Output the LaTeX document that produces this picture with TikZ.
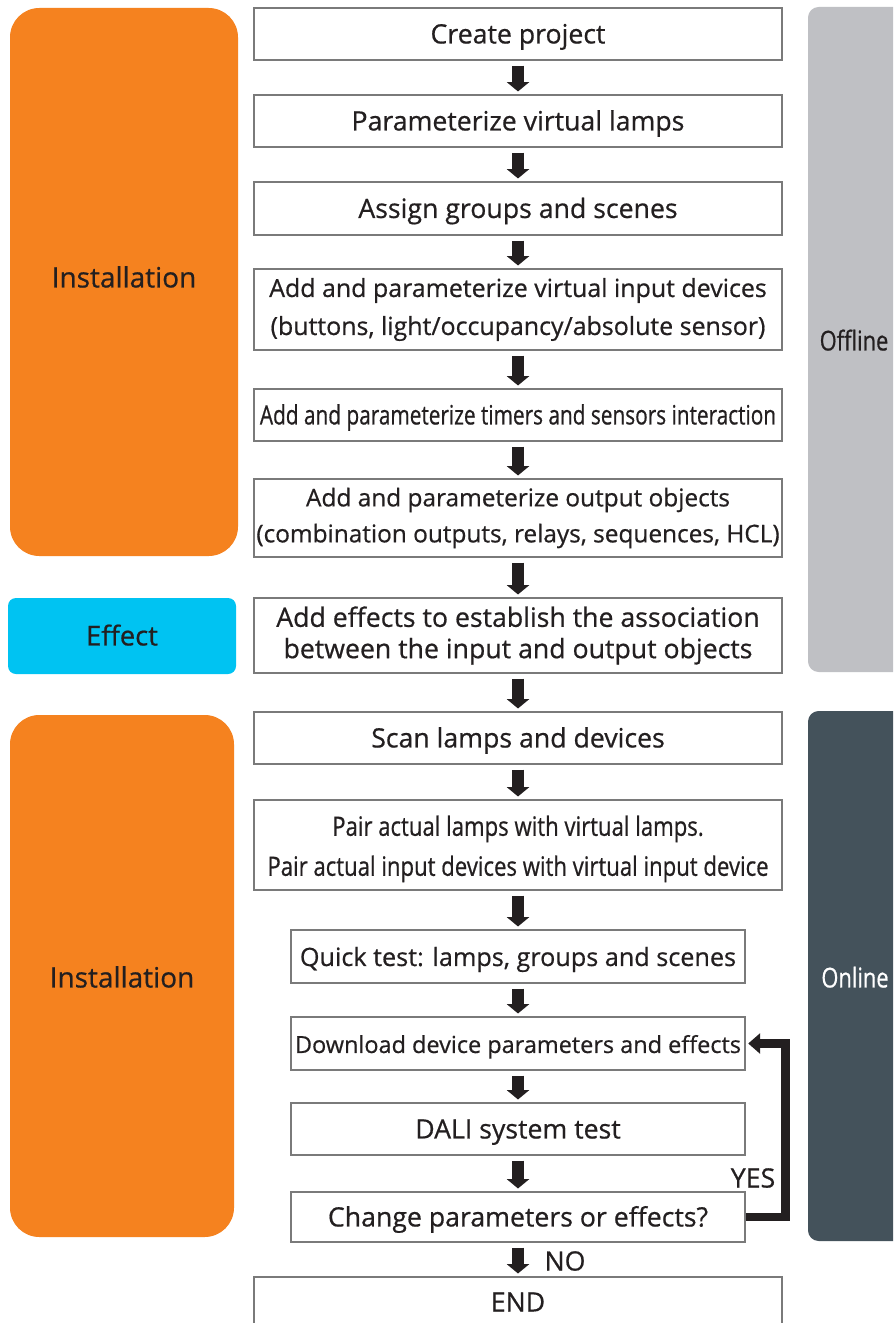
\documentclass[tikz,border=0pt]{standalone}
\usepackage{fontspec}
\setmainfont{Open Sans}[FakeBold=0.6]
\newfontfamily\condA[FakeStretch=0.78,FakeBold=0.6]{Open Sans}
\newfontfamily\condB[FakeStretch=0.83,FakeBold=0.6]{Open Sans}
\newfontfamily\condC[FakeStretch=0.8,FakeBold=0.6]{Open Sans}
\usetikzlibrary{arrows.meta,positioning}
\definecolor{orng}{HTML}{F5821F}
\definecolor{sky}{HTML}{00C3F2}
\definecolor{lgrey}{HTML}{BFC0C4}
\definecolor{dgrey}{HTML}{44525B}
\definecolor{txt}{HTML}{231F20}
\definecolor{bord}{HTML}{7A7A7A}
\tikzset{
  sz/.style 2 args={minimum width=#1*0.75pt, minimum height=#2*0.75pt},
  box/.style={draw=bord, line width=0.8pt, fill=white, inner sep=0pt, align=center, text=txt, font=\fontsize{20}{26}\selectfont},
  single/.style={text height=19pt, text depth=4.8pt},
  panel/.style={inner sep=0pt, text=txt, font=\fontsize{20.5}{24}\selectfont},
  barrow/.style={line width=9pt, draw=txt, -{Triangle[width=16.5pt,length=7pt]}, shorten <=3.75pt, shorten >=2.25pt},
  loopline/.style={line width=6.5pt, draw=txt, -{Triangle[width=15pt,length=9pt]}, shorten >=2pt},
  lbl/.style={text=txt, font=\fontsize{20}{24}\selectfont}
}
\begin{document}
\begin{tikzpicture}[x=0.75pt,y=-0.75pt]
\clip (0,0) rectangle (893,1323);
\fill[white] (0,0) rectangle (893,1323);
% side panels
\node[panel, fill=orng, rounded corners=22pt, sz={228}{548}] (inst1) at (124,282) {};
\node[lbl, single, font=\fontsize{21}{24}\selectfont] (inst1l) at (124,278) {Installation};
\node[panel, single, fill=sky, rounded corners=6pt, sz={228}{76}] (eff) at (122,636) {Effect};
\node[panel, fill=orng, rounded corners=22pt, sz={224}{522}] (inst2) at (122,976) {};
\node[lbl, single, font=\fontsize{21}{24}\selectfont] (inst2l) at (122,978) {Installation};
\node[panel, fill=lgrey, rounded corners=8pt, sz={152}{665}] (offp) at (884,339.5) {};
\node[lbl, single, font=\condC\fontsize{20.5}{24}\selectfont] (off) at (854,341) {Offline};
\node[panel, fill=dgrey, rounded corners=8pt, sz={152}{530}] (onp) at (884,976) {};
\node[lbl, single, text=white, font=\condC\fontsize{20.5}{24}\selectfont] (on) at (855,978) {Online};
% boxes
\node[box, single, sz={528}{52}] (n1) at (518,34) {Create project};
\node[box, single, sz={528}{52}] (n2) at (518,121) {Parameterize virtual lamps};
\node[box, single, sz={528}{53}] (n3) at (518,208.5) {Assign groups and scenes};
\node[box, sz={528}{81}, font=\fontsize{18.7}{28.5}\selectfont] (n4) at (518,309.5) {Add and parameterize virtual input devices\\(buttons, light/occupancy/absolute sensor)};
\node[box, single, sz={528}{52}, font=\condA\fontsize{20}{24}\selectfont] (n5) at (518,415) {Add and parameterize timers and sensors interaction};
\node[box, sz={528}{78}, font=\fontsize{18.3}{27}\selectfont] (n6) at (518,518) {Add and parameterize output objects\\(combination outputs, relays, sequences, HCL)};
\node[box, sz={528}{75}, font=\fontsize{20}{23.5}\selectfont] (n7) at (518,635.5) {Add effects to establish the association\\between the input and output objects};
\node[box, single, sz={528}{52}] (n8) at (518,738) {Scan lamps and devices};
\node[box, sz={528}{90}, font=\condB\fontsize{20}{30}\selectfont] (n9) at (518,845) {\rule{0pt}{21pt}Pair actual lamps with virtual lamps.\\Pair actual input devices with virtual input device};
\node[box, single, sz={454}{53}, font=\fontsize{18.9}{24}\selectfont] (n10) at (518,956.5) {Quick test: lamps, groups and scenes};
\node[box, single, sz={454}{53}, font=\fontsize{17.6}{24}\selectfont] (n11) at (518,1043.5) {Download device parameters and effects};
\node[box, single, sz={454}{52}] (n12) at (518,1129) {DALI system test};
\node[box, single, sz={454}{50}] (n13) at (518,1217) {Change parameters or effects?};
\node[box, sz={528}{60}] (n14) at (518,1307) {};
\node[lbl] (endl) at (518,1302) {END};
% arrows
\foreach \i/\j in {1/2,2/3,3/4,4/5,5/6,6/7,7/8,8/9,9/10,10/11,11/12,12/13,13/14}
  \draw[barrow] (n\i.south) -- (n\j.north);
\draw[loopline] (n13.east) -- ++(40,0) |- (n11.east);
\node[lbl] (yes) at (753,1178) {YES};
\node[lbl] (no) at (565,1261) {NO};
\end{tikzpicture}
\end{document}
